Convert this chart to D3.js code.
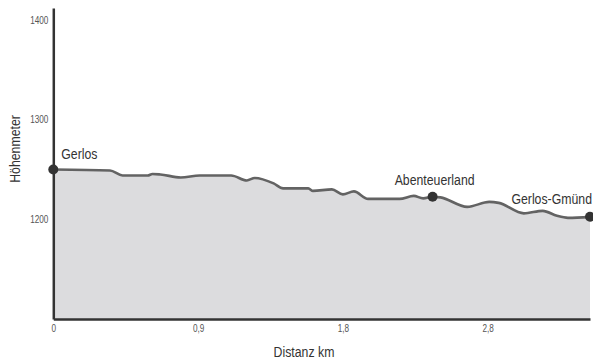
<!DOCTYPE html>
<html>
<head>
<meta charset="utf-8">
<script src="https://cdn.jsdelivr.net/npm/d3@7"></script>
<style>
  body { margin: 0; background: #fff; }
  svg text { font-family: "Liberation Sans", Arial, sans-serif; }
</style>
</head>
<body>
<div id="chart"></div>
<script>
// Profil Gerlos -> Gerlos-Gmünd (Distanz in km, Höhe in m)
const distKm = [0, 0.36, 0.44, 0.60, 0.63, 0.68, 0.81, 0.93, 1.13, 1.23, 1.28, 1.40, 1.46, 1.62, 1.65, 1.77, 1.84, 1.91, 2.00, 2.20, 2.29, 2.35, 2.41, 2.46, 2.63, 2.77, 2.83, 2.99, 3.11, 3.20, 3.27, 3.41];
const hoehe = [1250, 1249, 1244, 1244, 1245.5, 1245, 1242, 1244, 1244, 1239, 1241.5, 1236, 1231, 1231, 1228.5, 1230, 1225, 1228, 1220.5, 1220.5, 1223.5, 1221, 1222.7, 1222, 1212.5, 1217.5, 1216.5, 1206, 1208.5, 1203.5, 1201.5, 1202.5];

// Orte
const ortNamen = ['Gerlos', 'Abenteuerland', 'Gerlos-Gmünd'];
const ortKm = [0, 2.41, 3.41];
const ortHoehe = [1250, 1222.7, 1202.5];

// Achsen-Ticks
const xTickWerte = [0, 0.92, 1.84, 2.76];
const xTickLabels = ['0', '0,9', '1,8', '2,8'];
const yTickWerte = [1200, 1300, 1400];

const width = 593, height = 360;
const x0 = 53.3, x1 = 590, yBottom = 319, yTop = 8;
const schmal = 0.82; // schmale Schrift (condensed) durch horizontale Skalierung

const svg = d3.select('#chart').append('svg')
  .attr('width', width)
  .attr('height', height);

const x = d3.scaleLinear().domain([0, 3.41]).range([x0, x1]);
const y = d3.scaleLinear().domain([1100, 1412]).range([yBottom, yTop]);

const data = distKm.map((d, i) => ({ km: d, h: hoehe[i] }));

// Fläche
const area = d3.area()
  .x(d => x(d.km))
  .y0(y(1100))
  .y1(d => y(d.h))
  .curve(d3.curveMonotoneX);

svg.append('path')
  .datum(data)
  .attr('d', area)
  .attr('fill', '#dcdcde');

// Linie
const line = d3.line()
  .x(d => x(d.km))
  .y(d => y(d.h))
  .curve(d3.curveMonotoneX);

svg.append('path')
  .datum(data)
  .attr('d', line)
  .attr('fill', 'none')
  .attr('stroke', '#636363')
  .attr('stroke-width', 2.6);

// Y-Achse
const yAxis = svg.append('g')
  .attr('transform', 'translate(' + x0 + ',0)')
  .call(d3.axisLeft(y).tickValues(yTickWerte).tickSize(0).tickPadding(6).tickFormat(d => d));
yAxis.select('.domain').attr('stroke', '#333').attr('stroke-width', 2.5);
yAxis.selectAll('text')
  .attr('font-size', 10)
  .attr('fill', '#555')
  .attr('transform', 'scale(' + schmal + ',1)');

// X-Achse
const xAxis = svg.append('g')
  .attr('transform', 'translate(0,' + yBottom + ')')
  .call(d3.axisBottom(x).tickValues(xTickWerte).tickSize(0).tickPadding(6)
    .tickFormat((d, i) => xTickLabels[i]));
xAxis.select('.domain').attr('stroke', '#333').attr('stroke-width', 2.5);
xAxis.selectAll('text')
  .attr('font-size', 10)
  .attr('fill', '#555')
  .attr('transform', 'scale(' + schmal + ',1)');

// Achsentitel
svg.append('text')
  .attr('transform', 'translate(304,357) scale(' + schmal + ',1)')
  .attr('text-anchor', 'middle')
  .attr('font-size', 15)
  .attr('fill', '#333')
  .text('Distanz km');

svg.append('text')
  .attr('transform', 'translate(20,149) rotate(-90) scale(' + schmal + ',1)')
  .attr('text-anchor', 'middle')
  .attr('font-size', 15)
  .attr('fill', '#333')
  .text('Höhenmeter');

// Orte: Punkte und Beschriftungen
const orte = ortNamen.map((n, i) => ({ name: n, km: ortKm[i], h: ortHoehe[i] }));
const anker = ['start', 'middle', 'end'];
const dx = [8, 2, 2];
const dy = [-10, -12, -13];

svg.selectAll('.ort')
  .data(orte)
  .enter().append('circle')
  .attr('class', 'ort')
  .attr('cx', d => x(d.km))
  .attr('cy', d => y(d.h))
  .attr('r', 5)
  .attr('fill', '#333');

svg.selectAll('.ort-label')
  .data(orte)
  .enter().append('text')
  .attr('class', 'ort-label')
  .attr('transform', (d, i) => 'translate(' + (x(d.km) + dx[i]) + ',' + (y(d.h) + dy[i]) + ') scale(' + schmal + ',1)')
  .attr('text-anchor', (d, i) => anker[i])
  .attr('font-size', 15)
  .attr('fill', '#333')
  .text(d => d.name);
</script>
</body>
</html>
